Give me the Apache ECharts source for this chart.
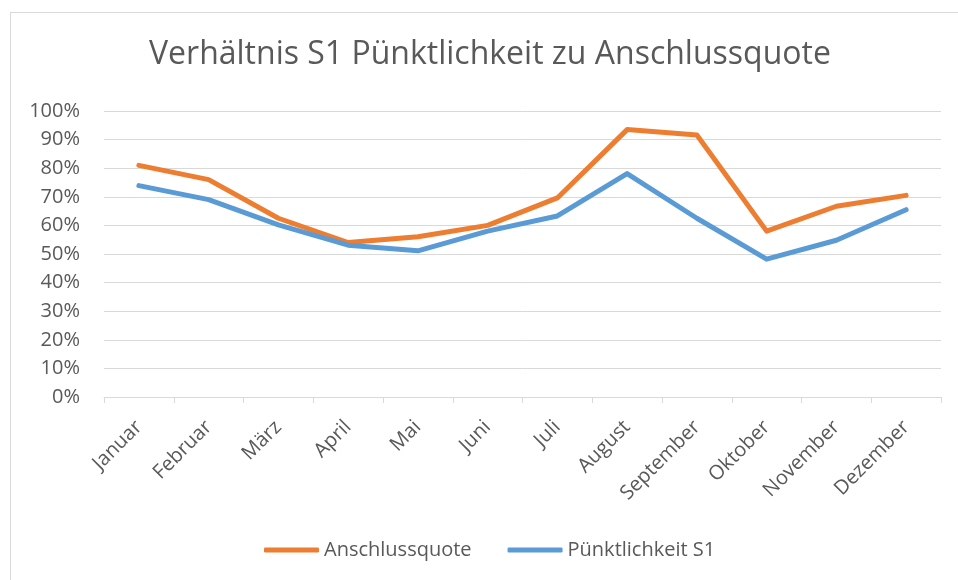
<!DOCTYPE html>
<html lang="de">
<head>
    <meta charset="UTF-8">
    <title>Verhältnis S1 Pünktlichkeit zu Anschlussquote</title>
    <script src="https://cdn.jsdelivr.net/npm/echarts@6/dist/echarts.min.js"></script>
    <style>
        html, body { margin: 0; padding: 0; background: #fff; }
        #frame { position: absolute; left: 10px; top: 12px; width: 960px; height: 580px;
                 border-left: 1px solid #d9d9d9; border-top: 1px solid #d9d9d9; }
        #main { position: absolute; left: 0; top: 0; width: 958px; height: 580px; }
    </style>
</head>
<body>
<div id="frame"></div>
<div id="main"></div>
<script type="text/javascript">
    // Monate und Werte (in Prozent)
    var monate = ['Januar', 'Februar', 'März', 'April', 'Mai', 'Juni', 'Juli',
        'August', 'September', 'Oktober', 'November', 'Dezember'];
    var anschlussquote = [81, 76, 62.5, 54, 56, 60, 69.6, 93.5, 91.6, 58, 66.7, 70.5];
    var puenktlichkeit = [73.9, 69, 60.2, 53.1, 51.1, 58, 63.3, 78.1, 62.5, 48.2, 54.8, 65.5];
    var yTicks = [0, 10, 20, 30, 40, 50, 60, 70, 80, 90, 100];

    var schrift = 'Open Sans';
    var grau = '#595959';

    var myChart = echarts.init(document.getElementById('main'));

    var option = {
        backgroundColor: 'transparent',
        animation: false,
        title: {
            text: 'Verhältnis S1 Pünktlichkeit zu Anschlussquote',
            left: 144,
            top: 34,
            textStyle: { color: grau, fontFamily: schrift, fontSize: 32, fontWeight: 'normal' }
        },
        legend: {
            bottom: 15,
            left: 259,
            icon: 'roundRect',
            itemWidth: 55,
            itemHeight: 5,
            itemGap: 36,
            textStyle: { color: grau, fontFamily: schrift, fontSize: 20 },
            data: ['Anschlussquote', 'Pünktlichkeit S1']
        },
        grid: {
            left: 104,
            right: 17,
            top: 111,
            bottom: 183,
            containLabel: false
        },
        xAxis: {
            type: 'category',
            data: monate,
            boundaryGap: true,
            axisLine: { lineStyle: { color: '#d9d9d9', width: 1 } },
            axisTick: { show: true, length: 6, lineStyle: { color: '#d9d9d9' } },
            axisLabel: {
                rotate: 45,
                interval: 0,
                margin: 27,
                color: grau,
                fontFamily: schrift,
                fontSize: 20
            }
        },
        yAxis: {
            type: 'value',
            min: yTicks[0],
            max: yTicks[yTicks.length - 1],
            interval: 10,
            axisLine: { show: false },
            axisTick: { show: false },
            splitLine: { lineStyle: { color: '#d9d9d9', width: 1 } },
            axisLabel: {
                margin: 24,
                color: grau,
                fontFamily: schrift,
                fontSize: 20,
                formatter: '{value}%'
            }
        },
        series: [
            {
                name: 'Anschlussquote',
                type: 'line',
                data: anschlussquote,
                symbol: 'none',
                itemStyle: { color: '#ED7D31' },
                lineStyle: { color: '#ED7D31', width: 5, cap: 'round', join: 'round' }
            },
            {
                name: 'Pünktlichkeit S1',
                type: 'line',
                data: puenktlichkeit,
                symbol: 'none',
                itemStyle: { color: '#5B9BD5' },
                lineStyle: { color: '#5B9BD5', width: 5, cap: 'round', join: 'round' }
            }
        ]
    };

    myChart.setOption(option);
</script>
</body>
</html>
